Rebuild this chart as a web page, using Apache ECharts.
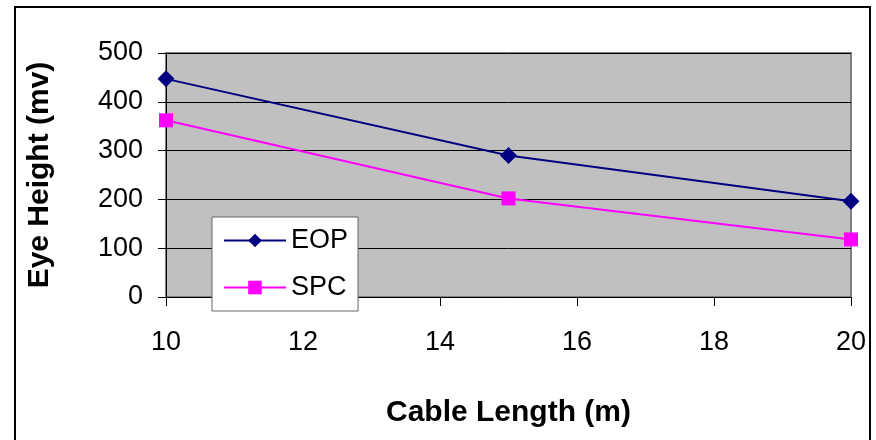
<!DOCTYPE html>
<html><head><meta charset="utf-8">
<script src="https://cdn.jsdelivr.net/npm/echarts@6/dist/echarts.min.js"></script>
<style>html,body{margin:0;padding:0;background:#fff}#c{width:876px;height:440px}</style>
</head><body><div id="c"></div>
<script>
const cableLength = [10, 15, 20];
const eopValues = [447, 290, 196];
const spcValues = [362, 202, 118];
const seriesNames = ['EOP', 'SPC'];
const xTitle = 'Cable Length (m)';
const yTitle = 'Eye Height (mv)';

const chart = echarts.init(document.getElementById('c'), null, {renderer: 'canvas'});
const font = 'Arial, "Liberation Sans", sans-serif';
chart.setOption({
  animation: false,
  backgroundColor: '#fff',
  graphic: [{type: 'rect', shape: {x: 15, y: 7, width: 855, height: 450}, style: {fill: null, stroke: '#000', lineWidth: 2}, z: 100}],
  grid: {left: 166, top: 53, right: 25, bottom: 143, show: true, backgroundColor: '#C0C0C0', borderColor: '#808080', borderWidth: 2},
  legend: {
    orient: 'vertical', left: 212, top: 217,
    backgroundColor: '#fff', borderColor: '#666', borderWidth: 1,
    padding: [10, 10, 10, 11], itemGap: 20, itemWidth: 62, itemHeight: 17,
    textStyle: {fontFamily: font, fontSize: 27, color: '#000', lineHeight: 27},
    data: seriesNames
  },
  xAxis: {
    type: 'value', min: 10, max: 20, interval: 2,
    name: xTitle, nameLocation: 'middle', nameGap: 101,
    nameTextStyle: {fontFamily: font, fontSize: 30, fontWeight: 'bold', color: '#000'},
    axisLine: {show: true, onZero: false, lineStyle: {color: '#000', width: 1}},
    axisTick: {show: true, length: 9, lineStyle: {color: '#000'}},
    axisLabel: {fontFamily: font, fontSize: 27, color: '#000', margin: 32},
    splitLine: {show: false}
  },
  yAxis: {
    type: 'value', min: 0, max: 500, interval: 100,
    name: yTitle, nameLocation: 'middle', nameGap: 111, nameRotate: 90,
    nameTextStyle: {fontFamily: font, fontSize: 30, fontWeight: 'bold', color: '#000'},
    axisLine: {show: true, lineStyle: {color: '#000', width: 1}},
    axisTick: {show: true, length: 8, lineStyle: {color: '#000'}},
    axisLabel: {fontFamily: font, fontSize: 27, color: '#000', margin: 23},
    splitLine: {show: true, lineStyle: {color: '#000', width: 1}}
  },
  series: [
    {name: seriesNames[0], type: 'line', data: cableLength.map((x, i) => [x, eopValues[i]]),
     symbol: 'diamond', symbolSize: 17, itemStyle: {color: '#000080'}, lineStyle: {color: '#000080', width: 2}, clip: false},
    {name: seriesNames[1], type: 'line', data: cableLength.map((x, i) => [x, spcValues[i]]),
     symbol: 'rect', symbolSize: 14, itemStyle: {color: '#FF00FF'}, lineStyle: {color: '#FF00FF', width: 2}, clip: false}
  ]
});
</script></body></html>
